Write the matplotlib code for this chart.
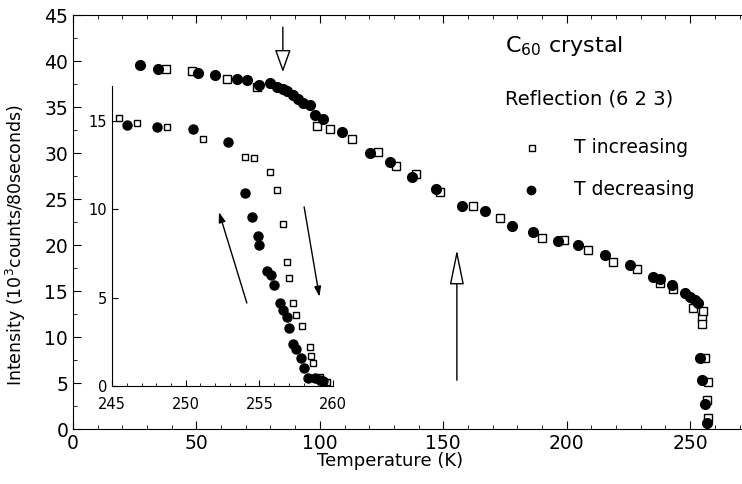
import matplotlib
matplotlib.use('Agg')
import matplotlib.pyplot as plt
from matplotlib.ticker import MultipleLocator

# main panel, T decreasing (filled circles)
t_dec = [27.1, 34.4, 50.6, 57.5, 66.5, 70.5, 75.4, 79.8, 82.7, 85.1, 86.7, 89.1,
         91.2, 93.2, 96.0, 98.1, 101.3, 109.0, 120.3, 128.4, 137.4, 147.1, 157.6,
         167.0, 177.9, 186.4, 196.5, 204.6, 215.6, 225.7, 235.0, 237.8, 242.7,
         248.0, 250.0, 252.0, 253.2, 254.0, 254.9, 256.0, 256.9]
i_dec = [39.6, 39.2, 38.7, 38.5, 38.1, 37.9, 37.4, 37.6, 37.2, 37.0, 36.8, 36.3,
         35.9, 35.4, 35.2, 34.1, 33.7, 32.3, 30.0, 29.0, 27.4, 26.1, 24.3,
         23.7, 22.1, 21.4, 20.4, 20.0, 18.9, 17.8, 16.5, 16.3, 15.7,
         14.8, 14.4, 14.0, 13.7, 7.7, 5.3, 2.7, 0.7]

# main panel, T increasing (open squares)
t_inc = [37.6, 48.0, 62.4, 74.5, 98.8, 104.0, 113.0, 123.6, 131.0, 139.0, 148.7,
         162.0, 173.0, 190.0, 199.0, 208.7, 218.8, 228.5, 237.8, 243.0, 251.0,
         254.9, 254.9, 255.2, 256.0, 257.3, 257.0, 257.3]
i_inc = [39.2, 38.9, 38.1, 37.2, 33.0, 32.6, 31.5, 30.1, 28.6, 27.7, 25.8,
         24.2, 23.0, 20.8, 20.6, 19.5, 18.2, 17.4, 15.9, 15.2, 13.2,
         12.2, 11.4, 12.8, 7.7, 5.1, 3.2, 1.2]

# inset
it_dec = [246.0, 248.05, 250.5, 252.9, 254.0, 254.5, 254.9, 255.0, 255.5, 255.8,
          256.0, 256.4, 256.6, 256.9, 257.0, 257.3, 257.5, 257.8, 258.0, 258.3,
          258.8, 259.1, 259.3]
ii_dec = [14.8, 14.7, 14.55, 13.8, 10.96, 9.6, 8.5, 8.0, 6.5, 6.3,
          5.7, 4.7, 4.3, 3.9, 3.3, 2.4, 2.1, 1.6, 1.0, 0.45,
          0.45, 0.35, 0.3]
it_inc = [245.5, 246.7, 248.7, 251.2, 254.0, 254.6, 255.7, 256.2, 256.6, 256.9,
          257.0, 257.3, 257.5, 257.9, 258.4, 258.5, 258.6, 259.1, 259.6]
ii_inc = [15.2, 14.9, 14.7, 14.0, 13.0, 12.9, 12.1, 11.1, 9.2, 7.0,
          6.1, 4.7, 4.0, 3.4, 2.2, 1.7, 1.3, 0.5, 0.2]

fig = plt.figure(figsize=(7.42, 4.84), dpi=100)
ax = fig.add_axes([0.0984, 0.1136, 0.9016, 0.855])

ax.plot(t_inc, i_inc, 's', mfc='white', mec='black', ms=6, mew=1, zorder=3)
ax.plot(t_dec, i_dec, 'o', color='black', ms=7, zorder=4)

ax.set_xlim(0, 271)
ax.set_ylim(0, 45)
ax.spines['right'].set_visible(False)
ax.xaxis.set_major_locator(MultipleLocator(50))
ax.xaxis.set_minor_locator(MultipleLocator(10))
ax.yaxis.set_major_locator(MultipleLocator(5))
ax.yaxis.set_minor_locator(MultipleLocator(2.5))
ax.tick_params(which='both', direction='in', top=True, right=False, labelsize=13.5)
ax.tick_params(which='major', length=6)
ax.tick_params(which='minor', length=3)
ax.set_xlabel('Temperature (K)', fontsize=13)
ax.set_ylabel('Intensity (10$^3$counts/80seconds)', fontsize=12.5)
ax.xaxis.set_label_coords(0.474, -0.055)
ax.yaxis.set_label_coords(-0.068, 0.445)

# open arrows in main panel
ax.annotate('', xy=(85, 38.5), xytext=(85, 44.0),
            arrowprops=dict(arrowstyle='-|>,head_length=1.4,head_width=0.5',
                            fc='white', ec='black', lw=1))
ax.annotate('', xy=(155.5, 19.8), xytext=(155.5, 5.0),
            arrowprops=dict(arrowstyle='-|>,head_length=2.2,head_width=0.45',
                            fc='white', ec='black', lw=1))

ax.text(175, 41.0, 'C$_{60}$ crystal', fontsize=16)
ax.text(175, 35.3, 'Reflection (6 2 3)', fontsize=14)
ax.plot([186], [30.6], 's', mfc='white', mec='black', ms=5, mew=1)
ax.text(203, 30.0, 'T increasing', fontsize=13.5)
ax.plot([185.5], [26.0], 'o', color='black', ms=6)
ax.text(203, 25.4, 'T decreasing', fontsize=13.5)

# inset
ins = fig.add_axes([0.151, 0.2025, 0.298, 0.62])
ins.plot(it_inc, ii_inc, 's', mfc='white', mec='black', ms=5, mew=1, zorder=3)
ins.plot(it_dec, ii_dec, 'o', color='black', ms=6.5, zorder=4)
ins.set_xlim(245, 260)
ins.set_ylim(0, 17)
ins.spines['top'].set_visible(False)
ins.spines['right'].set_visible(False)
ins.patch.set_alpha(0)
ins.xaxis.set_major_locator(MultipleLocator(5))
ins.xaxis.set_minor_locator(MultipleLocator(1))
ins.yaxis.set_major_locator(MultipleLocator(5))
ins.tick_params(which='both', direction='in', labelsize=10.5)
ins.tick_params(axis='x', pad=8)
ins.tick_params(which='major', length=4)
ins.tick_params(which='minor', length=2)
ins.annotate('', xy=(252.2, 10.0), xytext=(254.2, 4.55),
             arrowprops=dict(arrowstyle='-|>,head_length=0.6,head_width=0.2',
                             fc='black', ec='black', lw=1))
ins.annotate('', xy=(259.1, 4.9), xytext=(258.0, 10.3),
             arrowprops=dict(arrowstyle='-|>,head_length=0.6,head_width=0.2',
                             fc='black', ec='black', lw=1))

fig.savefig('out.png', dpi=100)
